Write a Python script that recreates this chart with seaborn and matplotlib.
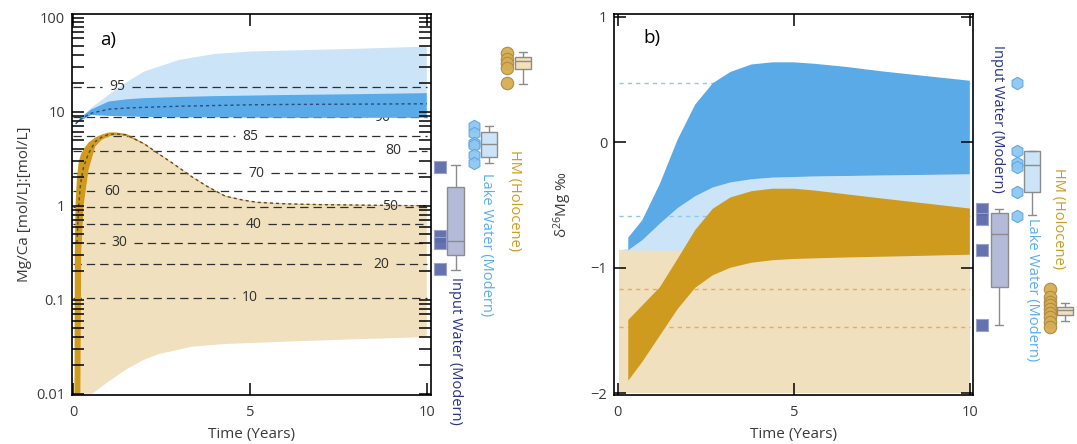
import numpy as np
import matplotlib
matplotlib.use('Agg')
import matplotlib.pyplot as plt
from matplotlib.ticker import LogLocator, NullLocator
import seaborn as sns

sns.set_style('white')
plt.rcParams['font.family'] = ['Open Sans', 'DejaVu Sans']
plt.rcParams['mathtext.default'] = 'regular'
plt.rcParams['lines.scale_dashes'] = False

# ---------------- panel a: Mg/Ca model (time in years) ----------------
t_blue_a = [0.06, 0.2, 0.5, 1.0, 1.5, 2.0, 3.0, 4.0, 5.0, 6.0, 8.0, 10.0]
lake_hi_a = [7.4, 8.5, 10.9, 15.1, 20.5, 26.6, 35.5, 41.0, 43.5, 44.5, 46.5, 49.0]
blue_hi_a = [7.4, 8.6, 10.5, 12.8, 13.5, 13.9, 14.3, 14.6, 14.8, 15.0, 15.3, 15.7]
blue_lo_a = [7.4, 8.0, 9.2, 9.0, 8.9, 8.8, 8.7, 8.7, 8.65, 8.6, 8.6, 8.6]
blue_med_a = [7.4, 8.3, 9.6, 10.6, 10.9, 11.1, 11.4, 11.6, 11.8, 11.9, 12.0, 12.1]

t_gold_a = [0.03, 0.04, 0.06, 0.1, 0.15, 0.2, 0.22, 0.29, 0.43, 0.62, 0.8, 1.0, 1.2,
            1.5, 2.0, 2.4, 2.8, 3.35, 3.8, 4.3, 4.8, 5.2, 6.0, 7.0, 8.0, 10.0]
gold_hi_a = [0.01, 0.3, 1.0, 2.0, 2.9, 3.4, 3.55, 4.0, 4.7, 5.3, 5.7, 6.0, 6.0,
             5.8, 4.6, 3.6, 2.85, 2.04, 1.6, 1.27, 1.15, 1.09, 1.05, 1.03, 1.02, 1.0]
gold_lo_a = [0.01, 0.01, 0.01, 0.01, 0.01, 0.01, 0.3, 1.0, 2.4, 4.25, 5.0, 5.45, 5.6,
             5.5, 4.5, 3.55, 2.82, 2.02, 1.58, 1.25, 1.14, 1.08, 1.04, 1.02, 1.01, 0.99]
t_gmed_a = [0.1, 0.15, 0.2, 0.29, 0.43, 0.62, 0.8, 1.0, 1.2, 1.5, 2.0, 2.4, 2.8,
            3.35, 3.8, 4.3, 4.8, 5.2, 6.0, 7.0, 8.0, 10.0]
gold_med_a = [0.4, 1.0, 1.7, 2.6, 3.6, 4.8, 5.35, 5.72, 5.8, 5.65, 4.55, 3.58, 2.84,
              2.03, 1.59, 1.26, 1.145, 1.085, 1.045, 1.025, 1.015, 0.995]

t_tan_a = [0.2, 0.53, 1.0, 1.47, 2.0, 2.41, 3.35, 4.29, 6.17, 8.0, 10.0]
tan_lo_a = [0.01, 0.01, 0.0135, 0.0179, 0.023, 0.0264, 0.0316, 0.0338, 0.036, 0.038, 0.04]

contour_labels = ['95', '90', '85', '80', '70', '60', '50', '40', '30', '20', '10']
contour_y = [18.4, 8.67, 5.47, 3.81, 2.21, 1.42, 0.97, 0.637, 0.405, 0.238, 0.105]
contour_label_t = [1.24, 8.74, 5.0, 9.06, 5.17, 1.09, 8.96, 5.09, 1.30, 8.71, 5.0]

# measured samples, panel a
input_a = [2.6, 0.47, 0.40, 0.21]
input_box_a = [0.207, 0.30, 0.42, 1.59, 2.7]
lake_a = [7.05, 5.94, 4.64, 4.42, 3.47, 2.85]
lake_box_a = [2.83, 3.32, 4.5, 6.12, 7.05]
hm_a = [42.0, 36.0, 32.7, 29.0, 20.0]
hm_box_a = [19.7, 28.3, 34.6, 38.5, 42.5]

# ---------------- panel b: d26Mg model ----------------
t_b = [0.3, 0.7, 1.2, 1.7, 2.2, 2.7, 3.2, 3.8, 4.4, 5.0, 5.6, 6.5, 7.5, 8.5, 10.0]
blue_hi_b = [-0.76, -0.62, -0.33, 0.02, 0.30, 0.47, 0.56, 0.62, 0.637, 0.637, 0.625,
             0.60, 0.565, 0.535, 0.49]
blue_lo_b = [-0.86, -0.78, -0.648, -0.525, -0.43, -0.36, -0.32, -0.295, -0.282,
             -0.277, -0.273, -0.269, -0.265, -0.261, -0.256]
gold_hi_b = [-1.416, -1.30, -1.155, -0.93, -0.70, -0.53, -0.44, -0.39, -0.37, -0.37,
             -0.385, -0.415, -0.448, -0.48, -0.528]
gold_lo_b = [-1.90, -1.75, -1.54, -1.33, -1.16, -1.06, -1.00, -0.96, -0.94, -0.93,
             -0.925, -0.918, -0.912, -0.906, -0.896]
t_lake_b = [0.05, 0.3, 0.7, 1.2, 1.7, 2.2, 2.7, 3.2, 3.8, 4.4, 5.0, 5.6, 6.5, 7.5, 8.5, 10.0]
lake_hi_b = [-0.855, -0.845, -0.76, -0.62, -0.50, -0.41, -0.345, -0.31, -0.29, -0.278,
             -0.273, -0.27, -0.266, -0.262, -0.258, -0.254]
t_span_b = [0.05, 10.0]
tan_top_b = -0.86
tan_bottom_b = -2.0

# measured samples, panel b
input_b = [-0.528, -0.608, -0.856, -1.455]
input_box_b = [-1.456, -1.155, -0.735, -0.567, -0.53]
lake_b = [0.472, -0.068, -0.168, -0.195, -0.40, -0.587]
lake_box_b = [-0.582, -0.40, -0.184, -0.073, -0.068]
hm_b = [-1.173, -1.23, -1.27, -1.30, -1.33, -1.36, -1.39, -1.43, -1.475]
hm_box_b = [-1.427, -1.373, -1.34, -1.315, -1.283]

# colours
c_lake_lt = '#CCE4F7'
c_blue = '#5AAAE8'
c_tan = '#F0E0BE'
c_gold = '#CE9B1F'
c_navy = '#28348A'
c_lake_txt = '#5BAEEF'
c_txt = '#3a3a3a'
c_box_edge = '#8C8C8C'


def band(ax, t_hi, hi, t_lo, lo, color, z):
    xs = np.r_[np.asarray(t_hi), np.asarray(t_lo)[::-1]]
    ys = np.r_[np.asarray(hi), np.asarray(lo)[::-1]]
    ax.fill(xs, ys, color=color, lw=0, zorder=z)


def style_axes(ax):
    ax.set_axisbelow(False)
    for s in ax.spines.values():
        s.set_color('black')
        s.set_linewidth(1.2)
        s.set_zorder(6)
    ax.xaxis.set_zorder(6)
    ax.yaxis.set_zorder(6)
    ax.tick_params(axis='x', which='major', direction='in', top=True, bottom=True,
                   length=8.5, width=1.1, color='black', labelsize=10.5,
                   labelcolor=c_txt, pad=7)
    ax.tick_params(axis='y', which='both', direction='in', left=True, right=True,
                   length=8.5, width=1.1, color='black', labelsize=10.5,
                   labelcolor=c_txt, pad=5)
    ax.set_xticks([0, 5, 10])
    ax.xaxis.set_minor_locator(NullLocator())
    ax.set_xlabel('Time (Years)', fontsize=11, color=c_txt)
    ax.xaxis.set_label_coords(0.5, -0.085)


def side_group(ax, pts, box, pos_pts, pos_box, marker, face, edge, boxface, width, s):
    sns.scatterplot(x=np.full(len(pts), pos_pts), y=pts, ax=ax, marker=marker, s=s,
                    color=face, edgecolor=edge, linewidth=0.8, alpha=0.95,
                    legend=False, zorder=3)
    sns.boxplot(x=np.full(len(box), pos_box), y=box, ax=ax, orient='x',
                native_scale=True, width=width, whis=(0, 100), color=boxface,
                saturation=1, linecolor=c_box_edge, linewidth=1, fliersize=0)


fig = plt.figure(figsize=(10.77, 4.44), dpi=100)
ax_a = fig.add_axes([72 / 1077, 49 / 444, 359 / 1077, 381 / 444])
ax_sa = fig.add_axes([431 / 1077, 49 / 444, 114 / 1077, 381 / 444])
ax_b = fig.add_axes([614.3 / 1077, 49 / 444, 358.7 / 1077, 381 / 444])
ax_sb = fig.add_axes([973 / 1077, 49 / 444, 104 / 1077, 381 / 444])

# ---- panel a ----
ax_a.set_yscale('log')
band(ax_a, t_blue_a, lake_hi_a, t_blue_a, blue_lo_a, c_lake_lt, 1)
band(ax_a, t_gold_a, gold_lo_a, t_tan_a, tan_lo_a, c_tan, 1)
for lab, yv, lt in zip(contour_labels, contour_y, contour_label_t):
    for x0, x1 in ((0, lt - 0.42), (lt + 0.42, 10)):
        ax_a.plot([x0, x1], [yv, yv], color='#2e2e2e', lw=0.9, dashes=(6, 3.6), zorder=2)
    ax_a.text(lt, yv, lab, ha='center', va='center', fontsize=10, color='#2e2e2e', zorder=2)
band(ax_a, t_blue_a, blue_hi_a, t_blue_a, blue_lo_a, c_blue, 3)
band(ax_a, t_gold_a, gold_hi_a, t_gold_a, gold_lo_a, c_gold, 3)
sns.lineplot(x=t_blue_a, y=blue_med_a, ax=ax_a, color='#2B4C7E', lw=1,
             estimator=None, sort=False, zorder=4).lines[-1].set_dashes((2.2, 2.2))
sns.lineplot(x=t_gmed_a, y=gold_med_a, ax=ax_a, color='#5C4A24', lw=1,
             estimator=None, sort=False, zorder=4).lines[-1].set_dashes((2.2, 2.2))

ax_a.set_xlim(-0.04, 10.12)
ax_a.set_ylim(0.0097, 109)
style_axes(ax_a)
ax_a.set_yticks([0.01, 0.1, 1, 10, 100])
ax_a.set_yticklabels(['0.01', '0.1', '1', '10', '100'])
ax_a.yaxis.set_minor_locator(LogLocator(base=10, subs=np.arange(2, 10)))
ax_a.yaxis.set_minor_formatter(plt.NullFormatter())
ax_a.set_ylabel('Mg/Ca [mol/L]:[mol/L]', fontsize=11, color=c_txt)
ax_a.yaxis.set_label_coords(-0.112, 0.5)
ax_a.text(0.078, 0.932, 'a)', transform=ax_a.transAxes, fontsize=13.5, color='black',
          va='center', ha='left')

# ---- side a ----
ax_sa.set_yscale('log')
side_group(ax_sa, input_a, input_box_a, 9, 24.5, 's', '#5C6BAA', '#9AA2CA', '#B3BBD9', 17, 70)
side_group(ax_sa, lake_a, lake_box_a, 43, 58, 'h', '#8DC7F1', '#5EA6E2', c_lake_lt, 16, 80)
side_group(ax_sa, hm_a, hm_box_a, 76, 92, 'o', '#D7AD52', '#A88A4A', '#F1E0BA', 16, 80)
ax_sa.set_xlim(0, 114)
ax_sa.set_ylim(0.0097, 109)
ax_sa.axis('off')
ax_sa.text(24, 0.174, 'Input Water (Modern)', rotation=270, ha='center', va='top',
           fontsize=10.5, color=c_navy)
ax_sa.text(55, 2.23, 'Lake Water (Modern)', rotation=270, ha='center', va='top',
           fontsize=10.5, color=c_lake_txt)
ax_sa.text(84, 3.9, 'HM (Holocene)', rotation=270, ha='center', va='top',
           fontsize=10.5, color=c_gold)

# ---- panel b ----
ax_b.fill_between(t_span_b, tan_bottom_b, tan_top_b, color=c_tan, lw=0, zorder=1)
ax_b.fill_between(t_lake_b, tan_top_b, lake_hi_b, color=c_lake_lt, lw=0, zorder=1)
for yv in (max(lake_b), min(lake_b)):
    ax_b.plot([0.03, 10], [yv, yv], color='#8FC6EE', lw=1, dashes=(3, 3), zorder=2)
for yv in (max(hm_b), min(hm_b)):
    ax_b.plot([0.03, 10], [yv, yv], color='#F2A65A', lw=1, dashes=(3, 3), zorder=2)
band(ax_b, t_b, blue_hi_b, t_b, blue_lo_b, c_blue, 3)
band(ax_b, t_b, gold_hi_b, t_b, gold_lo_b, c_gold, 3)

ax_b.set_xlim(-0.097, 10.09)
ax_b.set_ylim(-2.014, 1.022)
style_axes(ax_b)
ax_b.set_yticks([-2, -1, 0, 1])
ax_b.set_ylabel('δ$^{26}$Mg ‰', fontsize=11, color=c_txt)
ax_b.yaxis.set_label_coords(-0.112, 0.5)
ax_b.text(0.08, 0.937, 'b)', transform=ax_b.transAxes, fontsize=13.5, color='black',
          va='center', ha='left')

# ---- side b ----
side_group(ax_sb, input_b, input_box_b, 9, 26, 's', '#5C6BAA', '#9AA2CA', '#B3BBD9', 17, 70)
side_group(ax_sb, lake_b, lake_box_b, 44, 59, 'h', '#8DC7F1', '#5EA6E2', c_lake_lt, 16, 80)
side_group(ax_sb, hm_b, hm_box_b, 77, 92, 'o', '#D7AD52', '#A88A4A', '#F1E0BA', 16, 80)
ax_sb.set_xlim(0, 104)
ax_sb.set_ylim(-2.014, 1.022)
ax_sb.axis('off')
ax_sb.text(24, 0.775, 'Input Water (Modern)', rotation=270, ha='center', va='top',
           fontsize=10.5, color=c_navy)
ax_sb.text(59, -0.603, 'Lake Water (Modern)', rotation=270, ha='center', va='top',
           fontsize=10.5, color=c_lake_txt)
ax_sb.text(86, -0.205, 'HM (Holocene)', rotation=270, ha='center', va='top',
           fontsize=10.5, color=c_gold)

fig.savefig('out.png', dpi=100)
